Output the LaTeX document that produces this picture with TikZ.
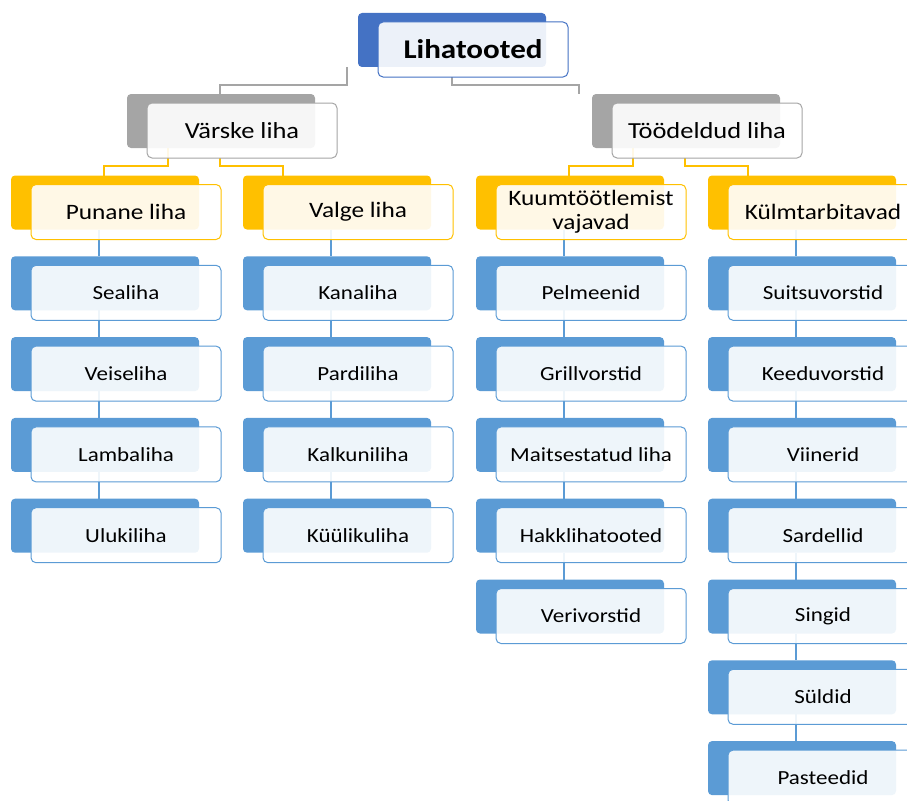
\documentclass[tikz,border=0pt]{standalone}
\usepackage{fontspec}
\setmainfont{Carlito}[FakeStretch=1.15]
\usetikzlibrary{calc}
\definecolor{cTop}{HTML}{4472C4}
\definecolor{cGray}{HTML}{A5A5A5}
\definecolor{cGold}{HTML}{FFC000}
\definecolor{cBlue}{HTML}{5B9BD5}
\pgfdeclarelayer{bg}
\pgfsetlayers{bg,main}
\tikzset{
  backbox/.style={rectangle, rounded corners=4pt, anchor=north west, inner sep=0pt, outer sep=0pt,
    minimum width=188pt, minimum height=54pt, fill=#1, draw=none},
  frontbox/.style={rectangle, rounded corners=5pt, anchor=north west, inner sep=0pt, outer sep=0pt,
    minimum width=190pt, minimum height=55pt, draw=#1, line width=1pt, fill=white,
    fill opacity=0.9, text opacity=1, align=center, text=black},
  link/.style={draw=#1, line width=1.2pt},
  tzero/.style={font=\bfseries\fontsize{27}{32}\selectfont},
  tone/.style={font=\fontsize{23}{27}\selectfont},
  ttwo/.style={font=\fontsize{22}{24}\selectfont},
  tthree/.style={font=\fontsize{20}{24}\selectfont},
}
\newcommand\mkpair[6]{%
  \node[backbox=#4] (b#1) at (#2,#3) {};
  \node[frontbox=#4, #5] (f#1) at ($(b#1.north west)+(20,9)$) {#6};
}
\begin{document}
\begin{tikzpicture}[x=1pt,y=-1pt]
\useasboundingbox (0,0) rectangle (907,800);
\mkpair{top}{358}{13}{cTop}{tzero}{Lihatooted}
\mkpair{V}{127}{94}{cGray}{tone}{Värske liha}
\mkpair{T}{592}{94}{cGray}{tone}{Töödeldud liha}
\mkpair{H1}{11}{175.5}{cGold}{ttwo}{Punane liha}
\mkpair{H2}{243}{175.5}{cGold}{ttwo}{Valge liha}
\mkpair{H3}{476}{175.5}{cGold}{ttwo}{Kuumtöötlemist\\vajavad}
\mkpair{H4}{708}{175.5}{cGold}{ttwo}{Külmtarbitavad}
\foreach \t [count=\k] in {Sealiha,Veiseliha,Lambaliha,Ulukiliha}
  {\mkpair{A\k}{11}{175.5+80.8*\k}{cBlue}{tthree}{\t}}
\foreach \t [count=\k] in {Kanaliha,Pardiliha,Kalkuniliha,Küülikuliha}
  {\mkpair{B\k}{243}{175.5+80.8*\k}{cBlue}{tthree}{\t}}
\foreach \t [count=\k] in {Pelmeenid,Grillvorstid,Maitsestatud liha,Hakklihatooted,Verivorstid}
  {\mkpair{C\k}{476}{175.5+80.8*\k}{cBlue}{tthree}{\t}}
\foreach \t [count=\k] in {Suitsuvorstid,Keeduvorstid,Viinerid,Sardellid,Singid,Süldid,Pasteedid}
  {\mkpair{D\k}{708}{175.5+80.8*\k}{cBlue}{tthree}{\t}}
\begin{pgfonlayer}{bg}
  \draw[link=cGray] ($(btop.south west)+(-11,0)$) -- ++(0,18) -| ($(bV.north west)+(93,0)$);
  \draw[link=cGray] ($(ftop.south west)+(74,0)$) -- ++(0,8) -| ($(bT.north west)+(-13,0)$);
  \draw[link=cGold] ($(bV.south west)+(41,0)$) -- ++(0,18) -| ($(bH1.north west)+(93,0)$);
  \draw[link=cGold] ($(fV.south west)+(73,0)$) -- ++(0,8) -| ($(bH2.north west)+(40,0)$);
  \draw[link=cGold] ($(bT.south west)+(41,0)$) -- ++(0,18) -| ($(bH3.north west)+(93,0)$);
  \draw[link=cGold] ($(fT.south west)+(73,0)$) -- ++(0,8) -| ($(bH4.north west)+(40,0)$);
  \draw[link=cBlue] ($(bH1.south west)+(88,0)$) -- ($(bA1.north west)+(88,0)$);
  \draw[link=cBlue] ($(bH2.south west)+(88,0)$) -- ($(bB1.north west)+(88,0)$);
  \draw[link=cBlue] ($(bH3.south west)+(88,0)$) -- ($(bC1.north west)+(88,0)$);
  \draw[link=cBlue] ($(bH4.south west)+(88,0)$) -- ($(bD1.north west)+(88,0)$);
  \foreach \a/\b in {1/2,2/3,3/4} {
    \draw[link=cBlue] ($(bA\a.south west)+(88,0)$) -- ($(bA\b.north west)+(88,0)$);
    \draw[link=cBlue] ($(bB\a.south west)+(88,0)$) -- ($(bB\b.north west)+(88,0)$);
  }
  \foreach \a/\b in {1/2,2/3,3/4,4/5}
    \draw[link=cBlue] ($(bC\a.south west)+(88,0)$) -- ($(bC\b.north west)+(88,0)$);
  \foreach \a/\b in {1/2,2/3,3/4,4/5,5/6,6/7}
    \draw[link=cBlue] ($(bD\a.south west)+(88,0)$) -- ($(bD\b.north west)+(88,0)$);
\end{pgfonlayer}
\end{tikzpicture}
\end{document}
